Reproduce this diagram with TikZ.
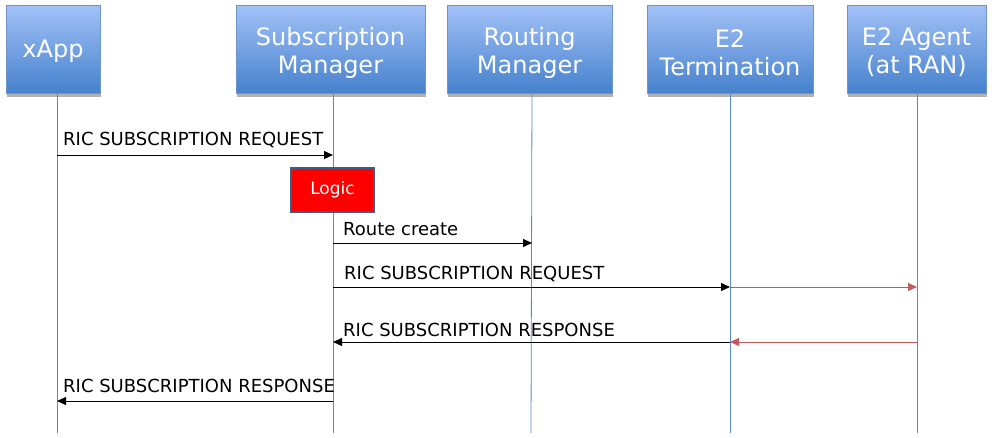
\documentclass[tikz,border=0pt]{standalone}
\usepackage{fontspec}
\setmainfont{DejaVu Sans}
\usetikzlibrary{arrows.meta}
\definecolor{boxtop}{HTML}{A2C1F7}
\definecolor{boxbot}{HTML}{4581CD}
\definecolor{boxline}{HTML}{6E95C9}
\definecolor{lifeblue}{HTML}{5A88C4}
\definecolor{msgred}{HTML}{C55A5A}
\definecolor{logicline}{HTML}{3E5C88}
\tikzset{
  actor/.style={draw=boxline, line width=0.8pt, top color=boxtop, bottom color=boxbot,
    inner sep=0pt, minimum height=88pt},
  actortext/.style={text=white, align=center, inner sep=0pt,
    font=\fontsize{24}{28}\selectfont},
  shadowbox/.style={fill=black!30, draw=none},
  life/.style={draw=lifeblue, line width=0.8pt},
  msg/.style={line width=0.9pt, -{Triangle[length=9pt,width=8pt]}},
  msgr/.style={msg, draw=msgred, -{Triangle[length=9pt,width=8pt,fill=msgred]}},
  lbl/.style={font=\fontsize{18}{20}\selectfont, text=black, inner sep=0pt, anchor=base west},
  logicbox/.style={draw=logicline, line width=2.8pt, fill=red, text=white,
    font=\fontsize{17}{20}\selectfont, minimum width=83pt, minimum height=44pt, inner sep=0pt}
}
\begin{document}
\begin{tikzpicture}[x=1pt,y=-1pt]
\useasboundingbox (0,0) rectangle (992,437);
% shadows
\fill[shadowbox] (7,90) rectangle (101,97);
\fill[shadowbox] (237,90) rectangle (426,97);
\fill[shadowbox] (448,90) rectangle (613,97);
\fill[shadowbox] (648,90) rectangle (814,97);
\fill[shadowbox] (848,90) rectangle (987,97);
% actors
\node[actor, minimum width=94pt] (xapp) at (53,49.5) {};
\node[actor, minimum width=189pt] (subm) at (330.5,49.5) {};
\node[actor, minimum width=165pt] (rtm) at (529.5,49.5) {};
\node[actor, minimum width=166pt] (e2t) at (730,49.5) {};
\node[actor, minimum width=139pt] (e2a) at (916.5,49.5) {};
\node[actortext] (xapp-txt) at ([yshift=-2pt]xapp.center) {xApp};
\node[actortext] (subm-txt) at ([yshift=-3pt]subm.center) {Subscription\\Manager};
\node[actortext] (rtm-txt) at ([yshift=-3pt]rtm.center) {Routing\\Manager};
\node[actortext] (e2t-txt) at ([yshift=-3pt]e2t.center) {E2\\Termination};
\node[actortext] (e2a-txt) at ([yshift=-3pt]e2a.center) {E2 Agent\\(at RAN)};
% lifeline ends
\coordinate (xapp-t) at (57,94);  \coordinate (xapp-b) at (57,433);
\coordinate (subm-t) at (333,94); \coordinate (subm-b) at (333,433);
\coordinate (rtm-t) at (532,94);  \coordinate (rtm-b) at (531,433);
\coordinate (e2t-t) at (730,94);  \coordinate (e2t-b) at (730,433);
\coordinate (e2a-t) at (917,94);  \coordinate (e2a-b) at (917,433);
\draw[life] (xapp-t) -- (xapp-b);
\draw[life] (subm-t) -- (subm-b);
\draw[life] (rtm-t) -- (rtm-b);
\draw[life] (e2t-t) -- (e2t-b);
\draw[life] (e2a-t) -- (e2a-b);
% message points
\coordinate (m1a) at (57,155);  \coordinate (m1b) at (333,155);
\coordinate (m2a) at (333,243); \coordinate (m2b) at (532,243);
\coordinate (m3a) at (333,287); \coordinate (m3b) at (730,287); \coordinate (m3c) at (917,287);
\coordinate (m4a) at (917,342); \coordinate (m4b) at (730,342); \coordinate (m4c) at (333,342);
\coordinate (m5a) at (333,401); \coordinate (m5b) at (57,401);
% messages
\draw[msg] (m1a) -- (m1b);
\node[lbl] (l1) at (63,145) {RIC SUBSCRIPTION REQUEST};
\node[logicbox] (logic) at (332.5,190) {Logic};
\draw[msg] (m2a) -- (m2b);
\node[lbl] (l2) at (343,235) {Route create};
\draw[msg] (m3a) -- (m3b);
\draw[msgr] (m3b) -- (m3c);
\node[lbl] (l3) at (344,279) {RIC SUBSCRIPTION REQUEST};
\draw[msgr] (m4a) -- (m4b);
\draw[msg] (m4b) -- (m4c);
\node[lbl] (l4) at (343,336) {RIC SUBSCRIPTION RESPONSE};
\draw[msg] (m5a) -- (m5b);
\node[lbl] (l5) at (63,392) {RIC SUBSCRIPTION RESPONSE};
\end{tikzpicture}
\end{document}
